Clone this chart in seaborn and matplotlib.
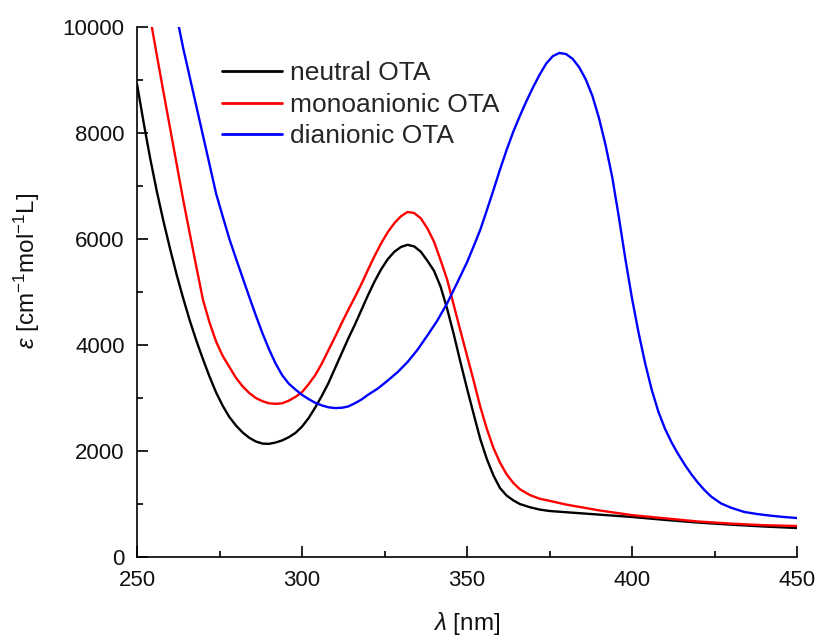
import matplotlib
matplotlib.use("Agg")
import matplotlib.pyplot as plt
import seaborn as sns
import pandas as pd
from matplotlib.ticker import MultipleLocator

# ---------------- data ----------------
neutral_nm = [250, 252, 254, 256, 258, 260, 262, 264, 266, 268, 270, 272, 274, 276, 278,
              280, 282, 284, 286, 288, 290, 292, 294, 296, 298, 300, 302, 304, 306, 308,
              310, 312, 314, 316, 318, 320, 322, 324, 326, 328, 330, 332, 334, 336, 338,
              340, 342, 344, 346, 348, 350, 352, 354, 356, 358, 360, 362, 364, 366, 369,
              372, 375, 380, 390, 400, 410, 420, 430, 440, 450]
neutral_eps = [8925, 8200, 7520, 6900, 6340, 5820, 5330, 4880, 4460, 4080, 3730, 3400,
               3100, 2850, 2640, 2480, 2350, 2250, 2180, 2140, 2135, 2160, 2200, 2260,
               2340, 2460, 2620, 2820, 3040, 3280, 3560, 3840, 4120, 4380, 4660, 4940,
               5200, 5430, 5620, 5760, 5850, 5890, 5860, 5760, 5590, 5400, 5100, 4680,
               4200, 3680, 3180, 2700, 2230, 1850, 1540, 1300, 1160, 1070, 1000, 940,
               895, 868, 845, 800, 755, 700, 650, 610, 575, 547]

mono_nm = [252, 254.5, 256, 258, 260, 262, 264, 266, 268, 270, 272, 274, 276, 278, 280,
           282, 284, 286, 288, 290, 292, 294, 296, 298, 300, 302, 304, 306, 308, 310,
           312, 314, 316, 318, 320, 322, 324, 326, 328, 330, 332, 334, 336, 338, 340,
           342, 344, 346, 348, 350, 352, 354, 356, 358, 360, 362, 364, 366, 369, 372,
           375, 380, 390, 400, 410, 420, 430, 440, 450]
mono_eps = [10800, 10000, 9470, 8780, 8100, 7420, 6737, 6100, 5470, 4850, 4420, 4060,
            3790, 3585, 3380, 3220, 3095, 3000, 2940, 2900, 2890, 2900, 2950, 3020,
            3110, 3260, 3430, 3650, 3900, 4150, 4410, 4660, 4900, 5150, 5420, 5680,
            5920, 6130, 6300, 6430, 6510, 6490, 6390, 6200, 5950, 5600, 5230, 4750,
            4270, 3800, 3330, 2840, 2420, 2060, 1780, 1560, 1400, 1280, 1170, 1100,
            1060, 990, 880, 790, 730, 670, 630, 600, 585]

di_nm = [260, 262.7, 264, 266, 268, 270, 272, 274, 276, 278, 280, 282, 284, 286, 288,
         290, 292, 294, 296, 298, 300, 302, 304, 306, 308, 310, 312, 314, 316, 318,
         320, 323, 326, 329, 332, 335, 338, 341, 344, 347, 350, 352, 354, 356, 358,
         360, 362, 364, 366, 368, 370, 372, 374, 376, 378, 380, 382, 384, 386, 388,
         390, 392, 394, 396, 398, 400, 402, 404, 406, 408, 410, 412, 414, 416, 418,
         420, 422, 424, 427, 430, 434, 438, 442, 446, 450]
di_eps = [10900, 10000, 9600, 9050, 8500, 7950, 7400, 6850, 6420, 6000, 5630, 5270,
          4910, 4560, 4225, 3920, 3650, 3430, 3270, 3160, 3060, 2980, 2910, 2860, 2825,
          2810, 2815, 2840, 2900, 2970, 3060, 3180, 3330, 3490, 3680, 3910, 4180, 4460,
          4790, 5170, 5560, 5860, 6170, 6540, 6920, 7310, 7680, 8020, 8320, 8600, 8860,
          9100, 9310, 9450, 9510, 9490, 9400, 9240, 9010, 8700, 8280, 7770, 7170, 6420,
          5620, 4880, 4230, 3650, 3150, 2740, 2420, 2160, 1940, 1740, 1560, 1400, 1260,
          1140, 1010, 930, 850, 810, 780, 755, 735]

series_labels = ["neutral OTA", "monoanionic OTA", "dianionic OTA"]
series_colors = ["#000000", "#ff0000", "#0000ff"]

x_ticks = [250, 300, 350, 400, 450]
y_ticks = [0, 2000, 4000, 6000, 8000, 10000]

df = pd.concat([
    pd.DataFrame({"nm": neutral_nm, "eps": neutral_eps, "species": series_labels[0]}),
    pd.DataFrame({"nm": mono_nm, "eps": mono_eps, "species": series_labels[1]}),
    pd.DataFrame({"nm": di_nm, "eps": di_eps, "species": series_labels[2]}),
], ignore_index=True)

# ---------------- style ----------------
sns.set_style("ticks")
plt.rcParams["font.family"] = ["Liberation Sans", "DejaVu Sans"]
plt.rcParams["mathtext.fontset"] = "custom"
plt.rcParams["mathtext.rm"] = "Liberation Sans"
plt.rcParams["mathtext.it"] = "Liberation Sans:italic"

fig = plt.figure(figsize=(8.19, 6.37), dpi=100)
ax = fig.add_axes([137 / 819, 1 - 557 / 637, (797 - 137) / 819, (557 - 27) / 637])

sns.lineplot(data=df, x="nm", y="eps", hue="species", hue_order=series_labels,
             palette=series_colors, estimator=None, sort=True, linewidth=1.7, ax=ax)
for ln in ax.get_lines():
    ln.set_solid_joinstyle("round")

ax.set_xlim(250, 450)
ax.set_ylim(0, 10000)
ax.set_xticks(x_ticks)
ax.set_yticks(y_ticks)
ax.xaxis.set_minor_locator(MultipleLocator(25))
ax.yaxis.set_minor_locator(MultipleLocator(1000))

for side in ["top", "right"]:
    ax.spines[side].set_visible(False)
for side in ["left", "bottom"]:
    ax.spines[side].set_linewidth(1.2)
    ax.spines[side].set_color("black")

ax.tick_params(which="major", direction="in", length=8, width=1.2, color="black",
               labelsize=16, pad=9, labelcolor="#111111")
ax.tick_params(which="minor", direction="in", length=4.5, width=1.2, color="black")

ax.set_xlabel(r"$\lambda$ [nm]", fontsize=17.5, color="#111111")
ax.set_ylabel(r"$\varepsilon$ [cm$^{-1}$mol$^{-1}$L]", fontsize=17.5, color="#111111")
ax.xaxis.set_label_coords(0.5, -0.1)
ax.yaxis.set_label_coords(-0.144, 0.54)

leg = ax.legend(loc="upper left", bbox_to_anchor=(0.129, 0.935), frameon=False,
                fontsize=19, handlelength=2.27, handletextpad=0.3, labelspacing=0.28,
                borderaxespad=0, borderpad=0)
for line in leg.get_lines():
    line.set_linewidth(2.0)

fig.savefig("out.png", dpi=100, facecolor="white")
